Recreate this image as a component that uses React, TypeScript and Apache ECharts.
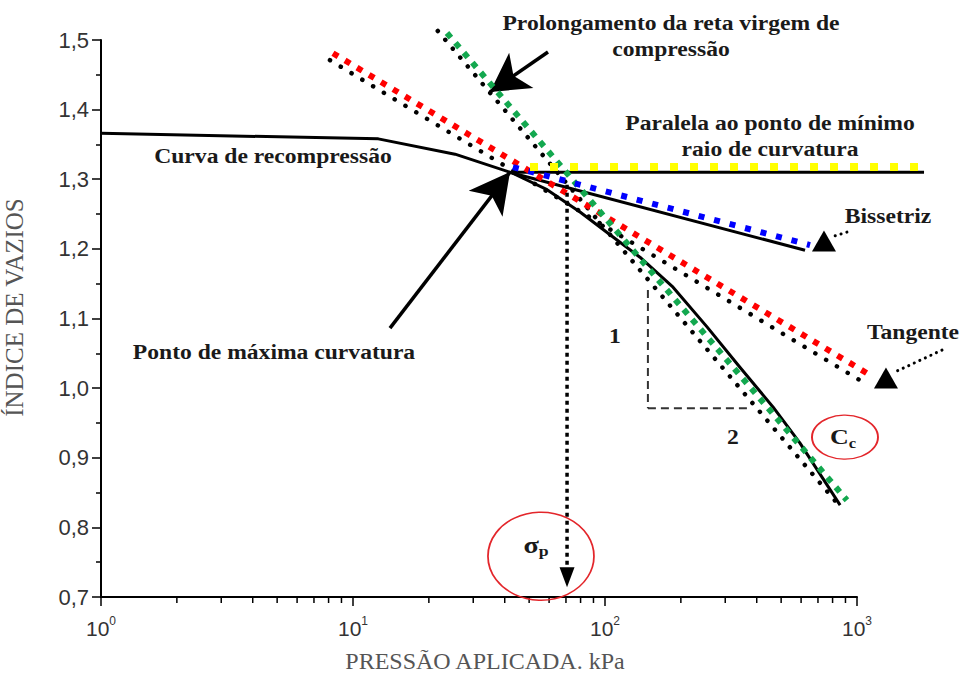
import React, { useEffect, useRef } from "react";
import * as echarts from "echarts";

// ---- data (pressure kPa, void ratio) ----
const curveX = [1, 12.6, 25.4, 42.8, 58.9, 79.6, 107.6, 137.6, 186.2, 254, 343, 464, 594, 857];
const curveY = [1.366, 1.358, 1.336, 1.309, 1.285, 1.253, 1.217, 1.188, 1.145, 1.088, 1.03, 0.973, 0.921, 0.832];

const bisectBlackX = [42.8, 622];
const bisectBlackY = [1.309, 1.198];
const bisectBlueX = [43.1, 651];
const bisectBlueY = [1.3175, 1.2055];

const parallelBlackX = [42.8, 1845];
const parallelBlackY = [1.31, 1.31];
const parallelYellowX = [50.4, 1828];
const parallelYellowY = [1.3175, 1.3175];

const tangentRedX = [8.33, 1148];
const tangentRedY = [1.481, 1.017];
const tangentDotsX = [8.1, 1086];
const tangentDotsY = [1.471, 1.006];

const virginGreenX = [23.6, 912];
const virginGreenY = [1.51, 0.839];
const virginDotsX = [21.7, 833];
const virginDotsY = [1.513, 0.835];

const sigmaX = [70.7, 70.7];
const sigmaY = [1.292, 0.735];
const sigmaHead = [70.7, 0.7284];

const triVertX = [148, 148];
const triVertY = [1.141, 0.971];
const triHorX = [148, 366];
const triHorY = [0.971, 0.971];

const yTicks = [0.7, 0.8, 0.9, 1.0, 1.1, 1.2, 1.3, 1.4, 1.5];
const xMinorTicks = [2, 3, 4, 5, 6, 7, 8, 9, 20, 30, 40, 50, 60, 70, 80, 90, 200, 300, 400, 500, 600, 700, 800, 900];

// arrows: [fromX, fromY, tipX, tipY]
const arrowProlong = [59.4, 1.4828, 34.97, 1.4253];
const arrowPonto = [14.02, 1.0862, 41.98, 1.3103];
const bissetrizDotsX = [912, 790];
const bissetrizDotsY = [1.2241, 1.217];
const bissetrizHead = [739.6, 1.2112];
const tangenteDotsX = [2174, 1420];
const tangenteDotsY = [1.0546, 1.0235];
const tangenteHead = [1303, 1.0144];

const ellipseSigma = [55.7, 0.7586];
const ellipseCc = [896, 0.9296];

const pathSeries = (
  xs: number[],
  ys: number[],
  color: string,
  width: number,
  dash: number[] | null,
  z: number,
  cap: string = "butt"
) => ({
  type: "custom",
  coordinateSystem: "cartesian2d",
  clip: false,
  silent: true,
  z,
  data: [[xs[0], ys[0]]],
  renderItem: (_p: any, api: any) => ({
    type: "polyline",
    shape: { points: xs.map((x, i) => api.coord([x, ys[i]])) },
    style: {
      stroke: color,
      lineWidth: width,
      lineDash: dash,
      lineCap: cap,
      lineJoin: "round",
      fill: null,
    },
  }),
});

const arrowSeries = (a: number[], size: number[]) => ({
  type: "line",
  data: [],
  silent: true,
  z: 20,
  markLine: {
    silent: true,
    animation: false,
    symbol: ["none", "arrow"],
    symbolSize: size,
    label: { show: false },
    lineStyle: { color: "#000", width: 3.5, type: "solid", opacity: 1 },
    itemStyle: { color: "#000", opacity: 1 },
    data: [[{ coord: [a[0], a[1]] }, { coord: [a[2], a[3]] }]],
  },
});

const headSeries = (pt: number[], size: number[], rotate: number) => ({
  type: "scatter",
  data: [pt],
  symbol: "triangle",
  symbolSize: size,
  symbolRotate: rotate,
  clip: false,
  silent: true,
  z: 20,
  itemStyle: { color: "#000", opacity: 1 },
});

const ellipseSeries = (pt: number[], size: number[]) => ({
  type: "scatter",
  data: [pt],
  symbol: "circle",
  symbolSize: size,
  clip: false,
  silent: true,
  z: 15,
  itemStyle: { color: "rgba(0,0,0,0)", borderColor: "#e3262b", borderWidth: 1.6, opacity: 1 },
});

const serif = "Liberation Serif";
const txt = (text: string, x: number, y: number, extra: any = {}) => ({
  type: "text",
  x,
  y,
  scaleX: 1.18,
  z: 100,
  style: {
    text,
    fontFamily: serif,
    fontSize: 20,
    fontWeight: "bold",
    fill: "#1a1a1a",
    textAlign: "center",
    textVerticalAlign: "middle",
    align: "center",
    verticalAlign: "middle",
    ...extra,
  },
});

export default function App() {
  const ref = useRef<HTMLDivElement>(null);
  useEffect(() => {
    if (!ref.current) return;
    const chart = echarts.init(ref.current, undefined, { renderer: "svg" });
    chart.setOption({
      animation: false,
      backgroundColor: "#fff",
      grid: { left: 101, right: 106, top: 40, bottom: 76, containLabel: false, outerBoundsMode: "none" },
      xAxis: {
        type: "log",
        logBase: 10,
        min: 1,
        max: 1000,
        name: "PRESSÃO APLICADA. kPa",
        nameLocation: "middle",
        nameGap: 52,
        nameTextStyle: { fontFamily: serif, fontSize: 24, color: "#555", padding: [0, 0, 0, 12] },
        axisLine: { show: true, lineStyle: { color: "#000", width: 2 } },
        axisTick: { show: true, length: 9, lineStyle: { color: "#000", width: 1.5 } },
        splitLine: { show: false },
        axisLabel: {
          color: "#333",
          fontFamily: "Liberation Sans",
          fontSize: 21,
          margin: 18,
          formatter: (v: number) => "10{s|" + Math.round(Math.log10(v)) + "}",
          rich: {
            s: { fontSize: 12, fontFamily: "Liberation Sans", color: "#333", padding: [0, 0, 14, 0] },
          },
        },
      },
      yAxis: {
        type: "value",
        min: 0.7,
        max: 1.5,
        interval: 0.1,
        name: "ÍNDICE DE VAZIOS",
        nameLocation: "middle",
        nameRotate: 90,
        nameGap: 74,
        nameTextStyle: { fontFamily: serif, fontSize: 25, color: "#555", padding: [0, 0, 0, 22] },
        axisLine: { show: true, lineStyle: { color: "#000", width: 2 } },
        axisTick: { show: true, length: 9, lineStyle: { color: "#000", width: 1.5 } },
        minorTick: { show: true, splitNumber: 2, length: 5, lineStyle: { color: "#000", width: 1.5 } },
        splitLine: { show: false },
        axisLabel: {
          color: "#333",
          fontFamily: "Liberation Sans",
          fontSize: 22,
          margin: 12,
          formatter: (v: number) => {
            const m = yTicks.find((t) => Math.abs(t - v) < 1e-6);
            return (m ?? v).toFixed(1).replace(".", ",");
          },
        },
      },
      series: [
        // x minor ticks
        {
          type: "custom",
          data: xMinorTicks.map((v) => [v, 0.7]),
          clip: false,
          silent: true,
          z: 5,
          renderItem: (_p: any, api: any) => {
            const p = api.coord([api.value(0), api.value(1)]);
            return {
              type: "line",
              shape: { x1: p[0], y1: p[1], x2: p[0], y2: p[1] + 6 },
              style: { stroke: "#000", lineWidth: 1.5 },
            };
          },
        },
        pathSeries(curveX, curveY, "#000", 3, null, 3),
        pathSeries(bisectBlackX, bisectBlackY, "#000", 3, null, 3),
        pathSeries(parallelBlackX, parallelBlackY, "#000", 3, null, 3),
        pathSeries(tangentDotsX, tangentDotsY, "#000", 4.5, [0.1, 12.5], 4, "round"),
        pathSeries(virginDotsX, virginDotsY, "#000", 4.5, [0.1, 11.5], 4, "round"),
        pathSeries(tangentRedX, tangentRedY, "#ff0000", 6, [6, 8], 6),
        pathSeries(virginGreenX, virginGreenY, "#13a84f", 6, [6, 7], 6),
        pathSeries(bisectBlueX, bisectBlueY, "#0000ff", 6, [6, 10], 7),
        pathSeries(parallelYellowX, parallelYellowY, "#ffff00", 8, [8, 12], 7),
        pathSeries(sigmaX, sigmaY, "#000", 3.5, [4, 4], 8),
        pathSeries(triVertX, triVertY, "#333", 2, [8, 5], 8),
        pathSeries(triHorX, triHorY, "#333", 2, [8, 5], 8),
        pathSeries(bissetrizDotsX, bissetrizDotsY, "#000", 3, [0.1, 6], 8, "round"),
        pathSeries(tangenteDotsX, tangenteDotsY, "#000", 3, [0.1, 6], 8, "round"),
        headSeries(sigmaHead, [15, 20], 180),
        headSeries(bissetrizHead, [24, 21], 0),
        headSeries(tangenteHead, [24, 21], 0),
        arrowSeries(arrowProlong, [32, 38]),
        arrowSeries(arrowPonto, [32, 40]),
        ellipseSeries(ellipseSigma, [106, 88]),
        ellipseSeries(ellipseCc, [66, 44]),
      ],
      graphic: [
        txt("Prolongamento da reta virgem de", 671, 24),
        txt("compressão", 671, 50),
        txt("Paralela ao ponto de mínimo", 770, 124),
        txt("raio de curvatura", 770, 150),
        txt("Curva de recompressão", 273, 157),
        txt("Bissetriz", 888, 217),
        txt("Tangente", 913, 333),
        txt("Ponto de máxima curvatura", 274, 353),
        txt("1", 615, 337),
        txt("2", 733, 438),
        txt("{a|σ}{b|p}", 536, 545, {
          rich: {
            a: { fontFamily: serif, fontSize: 24, fontWeight: "bold", fill: "#1a1a1a" },
            b: { fontFamily: serif, fontSize: 15, fontWeight: "bold", fill: "#1a1a1a", padding: [12, 0, 0, 0] },
          },
        }),
        txt("{a|C}{b|c}", 843, 437, {
          rich: {
            a: { fontFamily: serif, fontSize: 22, fontWeight: "bold", fill: "#1a1a1a" },
            b: { fontFamily: serif, fontSize: 14, fontWeight: "bold", fill: "#1a1a1a", padding: [12, 0, 0, 0] },
          },
        }),
      ],
    });
    return () => chart.dispose();
  }, []);
  return (
    <div
      ref={ref}
      style={{ position: "fixed", left: 0, top: 0, width: 963, height: 673, background: "#fff" }}
    />
  );
}
